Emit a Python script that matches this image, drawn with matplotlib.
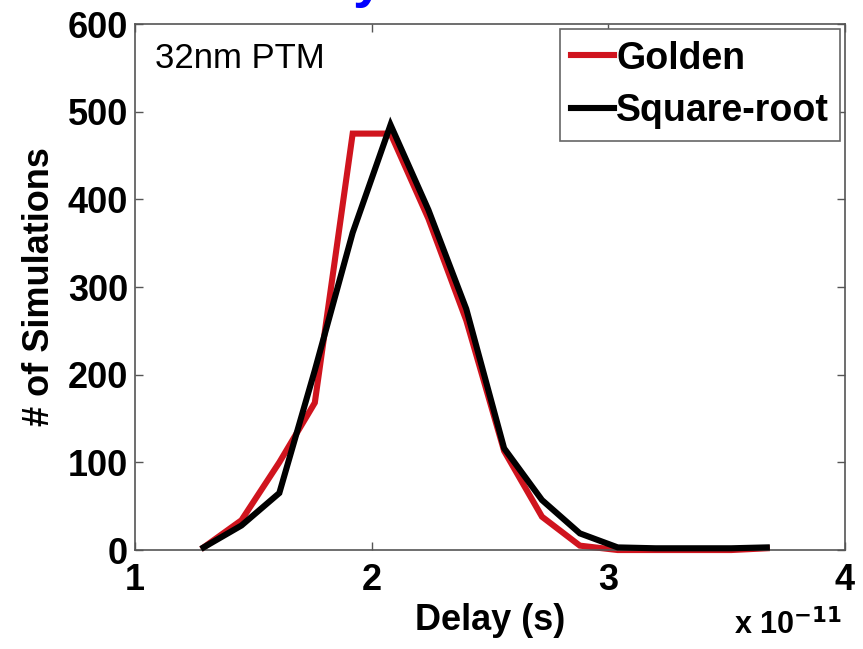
import matplotlib
matplotlib.use("Agg")
import matplotlib.pyplot as plt

# Data (delay in units of 1e-11 s)
delay = [1.29, 1.45, 1.61, 1.76, 1.92, 2.08, 2.24, 2.40, 2.56, 2.72, 2.88, 3.04, 3.20, 3.36, 3.52, 3.67]
golden = [3, 34, 100, 168, 475, 475, 378, 262, 113, 38, 5, 0, 0, 0, 0, 2]
square_root = [3, 28, 65, 205, 362, 485, 388, 275, 116, 57, 19, 3, 2, 2, 2, 3]
x_ticks = [1, 2, 3, 4]
y_ticks = [0, 100, 200, 300, 400, 500, 600]

plt.rcParams['font.family'] = ['Liberation Sans', 'DejaVu Sans']

fig = plt.figure(figsize=(8.63, 6.49), dpi=100)
ax = fig.add_axes([0.1564, 0.1525, 0.8226, 0.8105])

ax.plot(delay, golden, color='#d0141e', lw=4.4, solid_joinstyle='miter', label='Golden', clip_on=False, zorder=2)
ax.plot(delay, square_root, color='black', lw=4.4, solid_joinstyle='miter', label='Square-root', clip_on=False, zorder=3)

ax.set_xlim(1, 4)
ax.set_ylim(0, 600)
ax.set_xticks(x_ticks)
ax.set_yticks(y_ticks)
ax.tick_params(direction='in', length=6, width=1, top=True, right=True,
               labelsize=26, color='#555555')
ax.tick_params(axis='x', pad=9)
ax.tick_params(axis='y', pad=5)
for lab in ax.get_xticklabels() + ax.get_yticklabels():
    lab.set_fontweight('bold')
for s in ax.spines.values():
    s.set_color('#555555')
    s.set_linewidth(1.2)

ax.set_xlabel('Delay (s)', fontsize=26, fontweight='bold', labelpad=4)
ax.set_ylabel('# of Simulations', fontsize=26, fontweight='bold', labelpad=8)

ax.text(0.028, 0.935, '32nm PTM', transform=ax.transAxes, fontsize=25,
        ha='left', va='center')

leg = ax.legend(loc='upper right', bbox_to_anchor=(0.9935, 0.99),
                prop={'weight': 'bold', 'size': 27}, handlelength=1.15,
                handletextpad=0.05, borderpad=0.3, labelspacing=0.45,
                borderaxespad=0.0, fancybox=False, framealpha=1)
leg.get_frame().set_edgecolor('#666666')
leg.get_frame().set_linewidth(1.2)

fig.text(0.975, 0.012, r'x 10$^{\mathbf{-11}}$', ha='right', va='bottom',
         fontsize=22, fontweight='bold')

# cut-off blue title fragment at top
fig.text(0.426, 1.006, 'y', color='blue', fontsize=40, fontweight='bold',
         ha='center', va='baseline')

fig.savefig('out.png', dpi=100)
